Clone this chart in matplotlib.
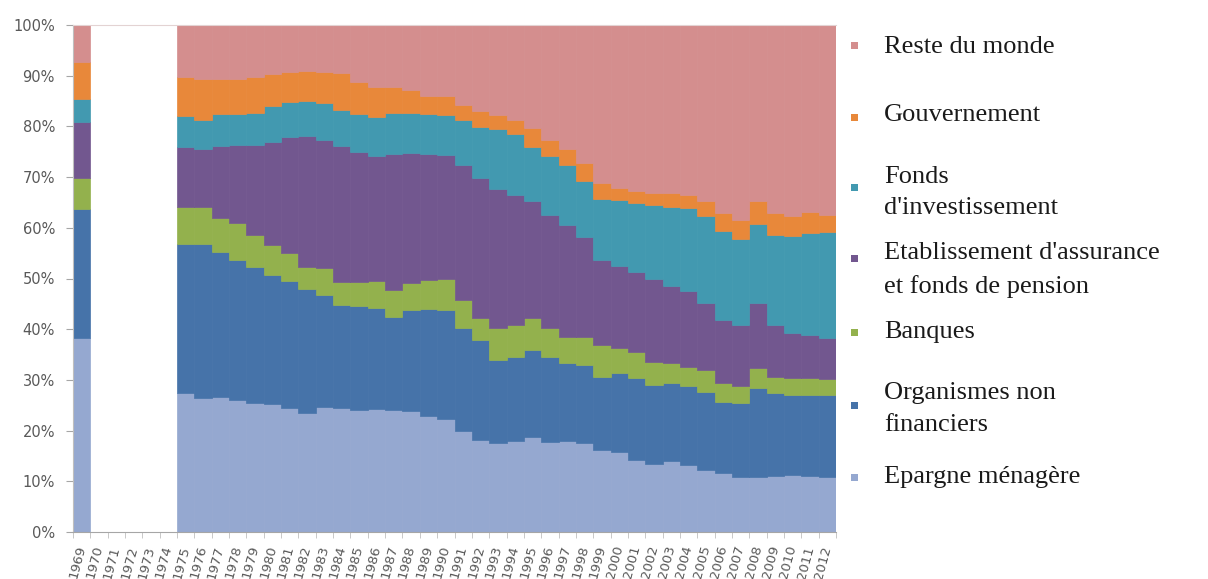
import numpy as np
import matplotlib
matplotlib.use("Agg")
import matplotlib.pyplot as plt
from matplotlib.patches import Rectangle

nan = np.nan
years = [1969, 1970, 1971, 1972, 1973, 1974] + list(range(1975, 2013))
year_labels = [str(y) for y in years]

# shares (%) per year; 1970-1974 missing
epargne = [38.2, nan, nan, nan, nan, nan,
           27.5, 26.4, 26.6, 26.0, 25.4, 25.3, 24.5, 23.5, 24.7, 24.4,
           24.0, 24.3, 24.0, 23.8, 22.9, 22.3, 20.0, 18.2, 17.6, 18.0,
           18.7, 17.8, 18.0, 17.5, 16.2, 15.8, 14.2, 13.4, 14.0, 13.3,
           12.2, 11.6, 10.8, 10.8, 11.0, 11.2, 11.1, 10.8]
organismes = [25.6, nan, nan, nan, nan, nan,
              29.4, 30.5, 28.6, 27.6, 26.8, 25.4, 25.0, 24.5, 22.0, 20.4,
              20.5, 19.9, 18.5, 20.0, 21.0, 21.5, 20.2, 19.7, 16.3, 16.6,
              17.2, 16.8, 15.3, 15.4, 14.4, 15.5, 16.1, 15.6, 15.3, 15.4,
              15.5, 14.1, 14.6, 17.6, 16.4, 15.8, 15.9, 16.2]
banques = [6.0, nan, nan, nan, nan, nan,
           7.3, 7.3, 6.7, 7.3, 6.4, 5.9, 5.5, 4.3, 5.3, 4.6,
           4.9, 5.4, 5.2, 5.3, 5.8, 6.2, 5.6, 4.3, 6.3, 6.2,
           6.3, 5.6, 5.2, 5.5, 6.3, 5.0, 5.3, 4.6, 4.0, 3.9,
           4.3, 3.7, 3.3, 3.9, 3.2, 3.3, 3.3, 3.2]
assurance = [11.1, nan, nan, nan, nan, nan,
             11.7, 11.3, 14.2, 15.4, 17.7, 20.4, 23.0, 25.8, 25.4, 26.7,
             25.6, 24.6, 26.8, 25.6, 24.9, 24.3, 26.6, 27.7, 27.5, 25.6,
             23.1, 22.3, 22.0, 19.8, 16.7, 16.2, 15.6, 16.4, 15.3, 14.9,
             13.2, 12.4, 12.1, 12.9, 10.2, 8.9, 8.6, 8.0]
fonds = [4.6, nan, nan, nan, nan, nan,
         6.1, 5.8, 6.4, 6.2, 6.3, 7.0, 6.9, 6.9, 7.2, 7.1,
         7.4, 7.6, 8.1, 7.9, 7.9, 8.0, 8.9, 10.0, 11.8, 12.1,
         10.7, 11.7, 11.8, 11.1, 12.1, 12.9, 13.7, 14.4, 15.6, 16.5,
         17.2, 17.6, 17.0, 15.5, 17.8, 19.1, 20.1, 21.0]
gouvernement = [7.3, nan, nan, nan, nan, nan,
                7.7, 8.1, 6.9, 6.8, 7.2, 6.3, 5.9, 5.9, 6.2, 7.4,
                6.4, 6.0, 5.2, 4.6, 3.5, 3.6, 3.0, 3.1, 2.7, 2.8,
                3.7, 3.1, 3.2, 3.4, 3.2, 2.4, 2.3, 2.5, 2.6, 2.5,
                2.9, 3.5, 3.7, 4.6, 4.4, 4.0, 4.2, 3.4]
reste = [7.2, nan, nan, nan, nan, nan,
         10.3, 10.6, 10.6, 10.7, 10.2, 9.7, 9.2, 9.1, 9.2, 9.4,
         11.2, 12.2, 12.2, 12.8, 14.0, 14.1, 15.7, 17.0, 17.8, 18.7,
         20.3, 22.7, 24.5, 27.3, 31.1, 32.2, 32.8, 33.1, 33.2, 33.5,
         34.7, 37.1, 38.5, 34.7, 37.0, 37.7, 36.8, 37.4]

series_names = ["Epargne ménagère", "Organismes non\nfinanciers", "Banques",
                "Etablissement d'assurance\net fonds de pension",
                "Fonds\nd'investissement", "Gouvernement", "Reste du monde"]
series_values = [epargne, organismes, banques, assurance, fonds, gouvernement, reste]
colors = ["#95A8D0", "#4673A9", "#93B14D", "#72578F", "#4299B0", "#E8883A", "#D48E8E"]

W, H = 1208, 579
fig = plt.figure(figsize=(W / 100, H / 100), dpi=100)
ax = fig.add_axes([73 / W, 47 / H, (836 - 73) / W, (532 - 25) / H])

x = np.arange(len(years))
bottom = np.zeros(len(years))
for vals, col in zip(series_values, colors):
    v = np.array(vals, dtype=float)
    ax.bar(x, v, width=1.0, bottom=bottom, color=col, edgecolor=col,
           linewidth=0.5, zorder=2)
    bottom = bottom + np.nan_to_num(v)

ax.set_xlim(-0.5, len(years) - 0.5)
ax.set_ylim(0, 100)

ax.set_yticks(np.arange(0, 101, 10))
ax.set_yticklabels([f"{t}%" for t in range(0, 101, 10)])
ax.tick_params(axis="y", length=5, color="#A6A6A6", pad=8, labelsize=10.5,
               labelcolor="#595959")

ax.set_xticks(x)
ax.set_xticklabels(year_labels, rotation=75, ha="right", va="center",
                   rotation_mode="anchor")
ax.tick_params(axis="x", length=0, pad=10, labelsize=9.5, labelcolor="#595959")
ax.set_xticks(np.arange(-0.5, len(years), 1.0), minor=True)
ax.tick_params(axis="x", which="minor", length=4, color="#BFBFBF")

ax.spines["right"].set_visible(False)
ax.spines["top"].set_color("#E3D3D3")
ax.spines["top"].set_linewidth(0.8)
ax.spines["left"].set_color("#BFBFBF")
ax.spines["bottom"].set_color("#A6A6A6")
ax.spines["bottom"].set_zorder(3)

# legend (drawn manually to match layout)
legend_items = [
    ("Reste du monde", colors[6], 45, [47]),
    ("Gouvernement", colors[5], 117, [115]),
    ("Fonds\nd'investissement", colors[4], 188, [177, 208]),
    ("Etablissement d'assurance\net fonds de pension", colors[3], 258, [253, 287]),
    ("Banques", colors[2], 332, [332]),
    ("Organismes non\nfinanciers", colors[1], 405, [393, 425]),
    ("Epargne ménagère", colors[0], 477, [477]),
]
sq = 7
for label, col, my, tys in legend_items:
    fig.add_artist(Rectangle(((855 - sq / 2) / W, 1 - (my + sq / 2) / H),
                             sq / W, sq / H, transform=fig.transFigure,
                             facecolor=col, edgecolor="none"))
    for line, ty in zip(label.split("\n"), tys):
        fig.text(884 / W, 1 - ty / H, line, ha="left", va="center",
                 fontsize=19, family="Liberation Serif", color="#1A1A1A")

fig.savefig("out.png", dpi=100)
